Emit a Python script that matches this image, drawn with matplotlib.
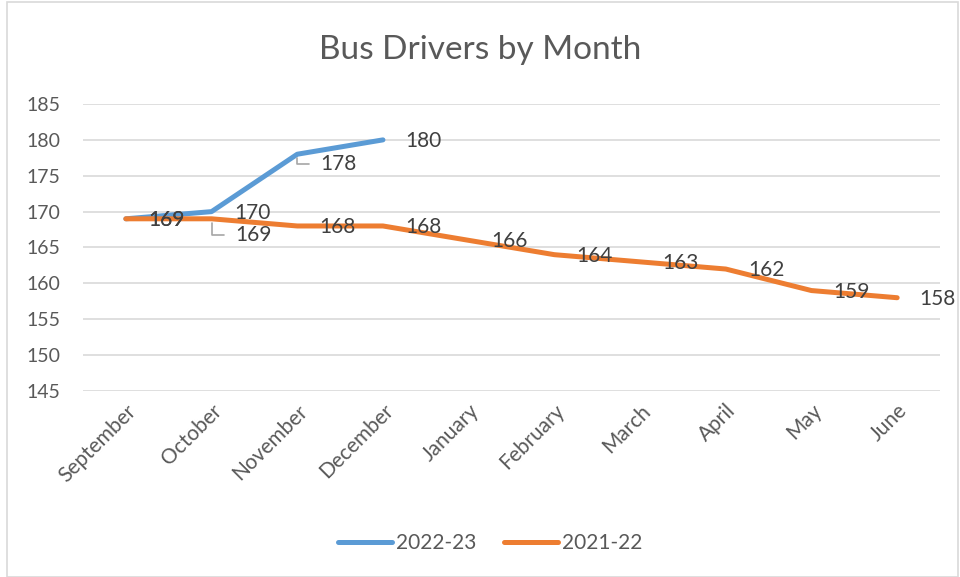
import matplotlib.pyplot as plt
from matplotlib.patches import Rectangle

# data
months = ["September", "October", "November", "December", "January",
          "February", "March", "April", "May", "June"]
drivers_2223 = [169, 170, 178, 180]
drivers_2122 = [169, 169, 168, 168, 166, 164, 163, 162, 159, 158]
series_names = ["2022-23", "2021-22"]

blue = "#5B9BD5"
orange = "#ED7D31"
grid_col = "#D9D9D9"
txt_col = "#595959"
lab_col = "#404040"

plt.rcParams["font.family"] = ["Lato", "DejaVu Sans"]

fig = plt.figure(figsize=(9.6, 5.77), dpi=100)
ax = fig.add_axes([83 / 960, 1 - 391 / 577, (940 - 83) / 960, (391 - 104) / 577])

x_all = list(range(len(months)))
x_new = x_all[:len(drivers_2223)]

ax.plot(x_new, drivers_2223, color=blue, lw=3.6, solid_capstyle="round",
        solid_joinstyle="round", label=series_names[0], zorder=3)
ax.plot(x_all, drivers_2122, color=orange, lw=3.6, solid_capstyle="round",
        solid_joinstyle="round", label=series_names[1], zorder=3)

ax.set_xlim(-0.5, len(months) - 0.5)
ax.set_ylim(145, 185)
ax.set_yticks(range(145, 186, 5))
ax.set_xticks(x_all)
ax.set_xticklabels(months, rotation=45, ha="right", rotation_mode="anchor")
ax.tick_params(axis="both", length=0, labelsize=14, colors=txt_col)
ax.tick_params(axis="y", pad=16)
ax.tick_params(axis="x", labelsize=15, pad=7)
ax.grid(axis="y", color=grid_col, lw=1.2)
ax.set_axisbelow(True)
for s in ax.spines.values():
    s.set_visible(False)


def label(x, y, dx=16, dy=-0.8, leader=False):
    if leader:
        ax.annotate(str(y), (x, y), xytext=(dx, dy), textcoords="offset points",
                    ha="left", va="center", fontsize=15, color=lab_col, zorder=5,
                    arrowprops=dict(arrowstyle="-", color="#A6A6A6", lw=1.2,
                                    shrinkA=6, shrinkB=3, relpos=(0, 0.5),
                                    connectionstyle="angle,angleA=0,angleB=90,rad=0"))
    else:
        ax.annotate(str(y), (x, y), xytext=(dx, dy), textcoords="offset points",
                    ha="left", va="center", fontsize=15, color=lab_col, zorder=5)


for i, v in enumerate(drivers_2223):
    if i == 2:
        label(i, v, dx=16.5, dy=-7.3, leader=True)
    else:
        label(i, v)
for i, v in enumerate(drivers_2122):
    if i == 1:
        label(i, v, dx=17, dy=-12, leader=True)
    else:
        label(i, v)

fig.text(0.5, 1 - 50 / 577, "Bus Drivers by Month", ha="center", va="center",
         fontsize=24, color=txt_col)

leg = fig.legend(loc="center", bbox_to_anchor=(490 / 960, 1 - 543 / 577), ncol=2,
                 frameon=False, fontsize=15, handlelength=2.6, columnspacing=1.3,
                 handletextpad=0.2)
for t in leg.get_texts():
    t.set_color(txt_col)

fig.patches.append(Rectangle((7 / 960, 0.5 / 577), 951 / 960, 575 / 577,
                             transform=fig.transFigure, fill=False,
                             edgecolor=grid_col, lw=1.2))

fig.savefig("out.png", dpi=100, facecolor="white")
